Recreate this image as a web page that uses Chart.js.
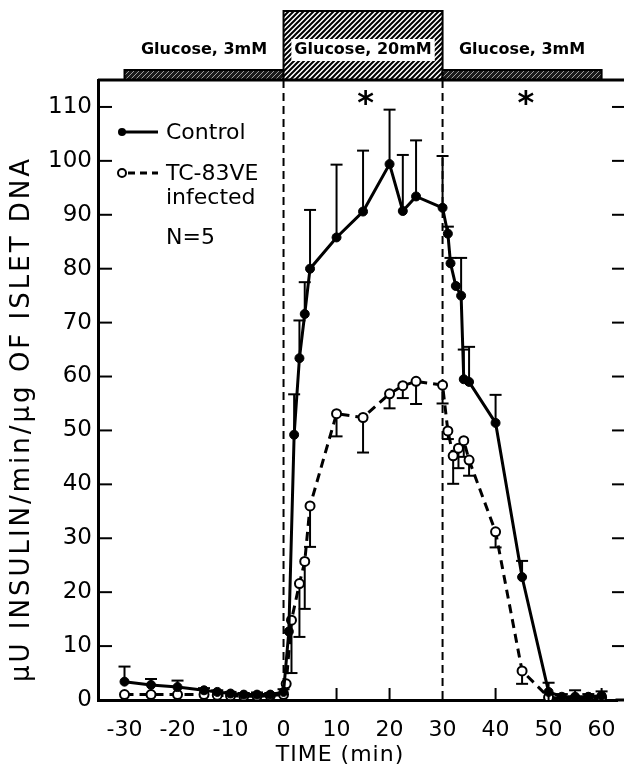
<!DOCTYPE html>
<html>
<head>
<meta charset="utf-8">
<script src="https://cdn.jsdelivr.net/npm/chart.js@4/dist/chart.umd.min.js"></script>
<style>
  html, body { margin: 0; padding: 0; background: #fff; }
  #wrap { width: 624px; height: 769px; }
</style>
</head>
<body>
<div id="wrap"><canvas id="chart" width="624" height="769"></canvas></div>
<script>
// ---- data ----
const controlTime = [-30, -25, -20, -15, -12.5, -10, -7.5, -5, -2.5, 0, 1, 2, 3, 4, 5, 10, 15, 20, 22.5, 25, 30, 31, 31.5, 32.5, 33.5, 34, 35, 40, 45, 50, 52.5, 55, 57.5, 60];
const controlMean = [3.4, 2.8, 2.4, 1.8, 1.5, 1.2, 1.0, 1.0, 1.0, 1.5, 12.7, 49.2, 63.4, 71.6, 80.0, 85.8, 90.6, 99.4, 90.7, 93.4, 91.3, 86.5, 81.0, 76.8, 75.0, 59.5, 59.0, 51.4, 22.8, 1.5, 0.6, 0.6, 0.6, 0.8];
const controlErr  = [2.8, 1.1, 1.2, 0.4, 0.3, 0.3, 0.3, 0.4, 0.3, 0.5, 0, 7.5, 7.0, 5.9, 10.9, 13.5, 11.3, 10.1, 10.4, 10.4, 9.6, 1.3, 1.0, 0, 7.0, 5.5, 6.5, 5.2, 3.0, 1.7, 0.5, 1.2, 0.5, 0.8];

const infectedTime = [-30, -25, -20, -15, -12.5, -10, -7.5, -5, -2.5, 0, 0.5, 1.5, 3, 4, 5, 10, 15, 20, 22.5, 25, 30, 31, 32, 33, 34, 35, 40, 45, 50, 52.5, 55, 57.5, 60];
const infectedMean = [1.0, 1.0, 1.0, 1.0, 0.9, 0.8, 0.7, 0.7, 0.8, 1.0, 3.0, 14.8, 21.6, 25.7, 36.0, 53.1, 52.4, 56.8, 58.3, 59.1, 58.4, 49.9, 45.3, 46.7, 48.1, 44.5, 31.2, 5.4, 0.5, 0.3, 0.3, 0.4, 0.5];
const infectedErr  = [0, 0, 0, 0, 0, 0, 0, 0, 0, 0, 0, 9.8, 9.9, 8.8, 7.6, 4.2, 6.5, 2.7, 2.3, 4.2, 3.4, 1.5, 5.2, 3.7, 3.0, 2.9, 2.9, 2.4, 0, 0, 0, 0, 0];

const xTicks = [-30, -20, -10, 0, 10, 20, 30, 40, 50, 60];
const xTickMarks = [10, 20, 40, 50, 60];
const yTicks = [0, 10, 20, 30, 40, 50, 60, 70, 80, 90, 100, 110];

const stimStart = [-30, 0, 30];
const stimEnd = [0, 30, 60];
const stimLabels = ['Glucose, 3mM', 'Glucose, 20mM', 'Glucose, 3mM'];
const stimHigh = [false, true, false];

const switchTimes = [0, 30];
const starTimes = [15.5, 45.7];
const starLevel = 110.5;

const FONT = "'DejaVu Sans', sans-serif";

function hatch(ctx, bg, fg, size, lw) {
  const c = document.createElement('canvas');
  c.width = c.height = size;
  const g = c.getContext('2d');
  g.fillStyle = bg;
  g.fillRect(0, 0, size, size);
  g.strokeStyle = fg;
  g.lineWidth = lw;
  g.beginPath();
  g.moveTo(-1, size + 1); g.lineTo(size + 1, -1);
  g.moveTo(-size / 2, size / 2); g.lineTo(size / 2, -size / 2);
  g.moveTo(size / 2, size * 1.5); g.lineTo(size * 1.5, size / 2);
  g.stroke();
  return ctx.createPattern(c, 'repeat');
}

function line(ctx, x1, y1, x2, y2) {
  ctx.beginPath(); ctx.moveTo(x1, y1); ctx.lineTo(x2, y2); ctx.stroke();
}

// error bars, switch lines, frame extras, legend, labels
const decor = {
  id: 'decor',
  beforeDatasetsDraw(chart) {
    const { ctx, chartArea: a, scales: { x, y } } = chart;
    ctx.save();
    ctx.strokeStyle = '#000';
    ctx.lineWidth = 2;
    ctx.setLineDash([8, 5]);
    switchTimes.forEach(t => line(ctx, x.getPixelForValue(t), a.top, x.getPixelForValue(t), a.bottom));
    ctx.setLineDash([]);

    const bars = (times, mean, err, sign) => {
      times.forEach((t, i) => {
        if (!err[i]) return;
        const px = x.getPixelForValue(t);
        const p0 = y.getPixelForValue(mean[i]);
        const p1 = y.getPixelForValue(mean[i] + sign * err[i]);
        line(ctx, px, p0, px, p1);
        line(ctx, px - 6, p1, px + 6, p1);
      });
    };
    bars(controlTime, controlMean, controlErr, 1);
    bars(infectedTime, infectedMean, infectedErr, -1);
    ctx.restore();
  },
  afterDraw(chart) {
    const { ctx, chartArea: a, scales: { x, y } } = chart;
    const edge = chart.width; // frame runs off the right edge of the page
    ctx.save();
    ctx.strokeStyle = '#000';
    ctx.fillStyle = '#000';

    // tick marks drawn inward
    ctx.lineWidth = 2;
    yTicks.forEach(v => {
      const py = y.getPixelForValue(v);
      line(ctx, a.left, py, a.left + 14, py);
      line(ctx, edge, py, edge - 12, py);
    });
    xTickMarks.forEach(v => {
      const px = x.getPixelForValue(v);
      line(ctx, px, a.bottom, px, a.bottom - 12);
    });
    ctx.lineWidth = 3;
    line(ctx, a.right - 2, a.bottom, edge, a.bottom);

    // glucose protocol bar on top of the frame
    stimStart.forEach((s, i) => {
      const x0 = x.getPixelForValue(s);
      const x1 = x.getPixelForValue(stimEnd[i]);
      const top = stimHigh[i] ? 11 : 70;
      ctx.fillStyle = stimHigh[i] ? hatch(ctx, '#fff', '#000', 5, 2) : hatch(ctx, '#1a1a1a', '#9a9a9a', 5, 1);
      ctx.fillRect(x0, top, x1 - x0, a.top - top);
      ctx.lineWidth = 2;
      ctx.strokeRect(x0, top, x1 - x0, a.top - top);
    });
    ctx.lineWidth = 3;
    line(ctx, a.left, a.top, edge, a.top);

    ctx.font = 'bold 16px ' + FONT;
    ctx.textAlign = 'center';
    ctx.textBaseline = 'middle';
    stimLabels.forEach((lab, i) => {
      const cx = (x.getPixelForValue(stimStart[i]) + x.getPixelForValue(stimEnd[i])) / 2;
      if (stimHigh[i]) {
        const w = ctx.measureText(lab).width + 6;
        ctx.fillStyle = '#fff';
        ctx.fillRect(cx - w / 2, 39, w, 22);
      }
      ctx.fillStyle = '#000';
      ctx.fillText(lab, cx, 50);
    });

    // significance marks
    ctx.font = 'bold 32px ' + FONT;
    starTimes.forEach(t => ctx.fillText('*', x.getPixelForValue(t), y.getPixelForValue(starLevel)));

    // legend
    ctx.font = '22px ' + FONT;
    ctx.textAlign = 'left';
    ctx.lineWidth = 3;
    line(ctx, 122, 132, 158, 132);
    ctx.beginPath(); ctx.arc(122, 132, 4, 0, Math.PI * 2); ctx.fill();
    ctx.fillText('Control', 166, 133);
    ctx.setLineDash([7, 5]);
    line(ctx, 128, 173, 158, 173);
    ctx.setLineDash([]);
    ctx.lineWidth = 2;
    ctx.beginPath(); ctx.arc(122, 173, 4, 0, Math.PI * 2);
    ctx.fillStyle = '#fff'; ctx.fill(); ctx.stroke();
    ctx.fillStyle = '#000';
    ctx.fillText('TC-83VE', 166, 174);
    ctx.fillText('infected', 166, 198);
    ctx.fillText('N=5', 166, 238);

    // axis titles
    ctx.textAlign = 'center';
    ctx.font = '22px ' + FONT;
    ctx.letterSpacing = '1px';
    ctx.fillText('TIME (min)', 340, 755);
    ctx.font = '26px ' + FONT;
    ctx.letterSpacing = '3px';
    ctx.translate(22, 419);
    ctx.rotate(-Math.PI / 2);
    ctx.fillText('\u03bcU INSULIN/min/\u03bcg OF ISLET DNA', 0, 0);
    ctx.restore();
  }
};

const ctx = document.getElementById('chart').getContext('2d');
new Chart(ctx, {
  type: 'line',
  data: {
    datasets: [
      {
        label: 'Control',
        data: controlTime.map((t, i) => ({ x: t, y: controlMean[i] })),
        borderColor: '#000', borderWidth: 3,
        pointRadius: 4.5, pointBackgroundColor: '#000', pointBorderColor: '#000', pointBorderWidth: 1,
        tension: 0
      },
      {
        label: 'TC-83VE infected',
        data: infectedTime.map((t, i) => ({ x: t, y: infectedMean[i] })),
        borderColor: '#000', borderWidth: 3, borderDash: [9, 6],
        pointRadius: 4.5, pointBackgroundColor: '#fff', pointBorderColor: '#000', pointBorderWidth: 2,
        tension: 0
      }
    ]
  },
  options: {
    responsive: false,
    animation: false,
    layout: { padding: { top: 80, left: 0, right: 0, bottom: 0 } },
    plugins: { legend: { display: false }, tooltip: { enabled: false } },
    scales: {
      x: {
        type: 'linear', min: -35, max: 63,
        afterBuildTicks: s => { s.ticks = xTicks.map(v => ({ value: v })); },
        afterFit: s => { s.height = 69; s.paddingLeft = 0; s.paddingRight = 0; },
        grid: { display: false, drawTicks: false },
        border: { display: true, color: '#000', width: 3 },
        ticks: { color: '#000', font: { family: FONT, size: 22 }, padding: 17, maxRotation: 0 }
      },
      y: {
        min: 0, max: 115,
        afterBuildTicks: s => { s.ticks = yTicks.map(v => ({ value: v })); },
        afterFit: s => { s.width = 98; s.paddingTop = 0; s.paddingBottom = 0; },
        grid: { display: false, drawTicks: false },
        border: { display: true, color: '#000', width: 3 },
        ticks: { color: '#000', font: { family: FONT, size: 23 }, padding: 6 }
      }
    }
  },
  plugins: [decor]
});
</script>
</body>
</html>
